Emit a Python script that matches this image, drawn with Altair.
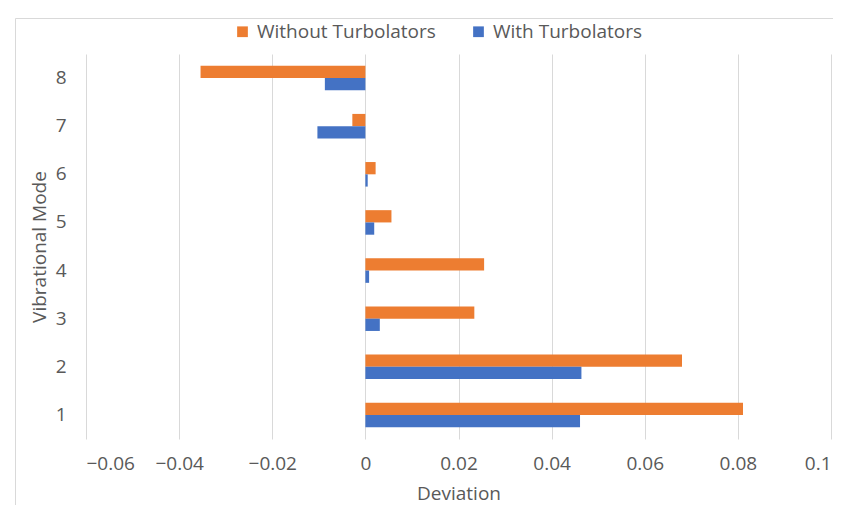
import altair as alt
import pandas as pd

modes = [1, 2, 3, 4, 5, 6, 7, 8]
without_turb = [0.0811, 0.0680, 0.0234, 0.0255, 0.0056, 0.0022, -0.0028, -0.0354]
with_turb = [0.0461, 0.0464, 0.0031, 0.0008, 0.0019, 0.0005, -0.0103, -0.0087]
series = ["Without Turbolators", "With Turbolators"]
colors = ["#ED7D31", "#4472C4"]
x_ticks = [-0.06, -0.04, -0.02, 0, 0.02, 0.04, 0.06, 0.08, 0.1]

rows = []
for m, a, b in zip(modes, without_turb, with_turb):
    rows.append({"mode": str(m), "series": series[0], "value": a})
    rows.append({"mode": str(m), "series": series[1], "value": b})
df = pd.DataFrame(rows)

font = "Open Sans"
txt = "#595959"
fs = 19

bars = alt.Chart(df).mark_bar().encode(
    x=alt.X("value:Q",
            scale=alt.Scale(domain=[-0.06, 0.1], nice=False, zero=False),
            axis=alt.Axis(values=x_ticks, format=".2~f", title="Deviation", grid=True,
                          ticks=False, domain=False, labelPadding=15, titlePadding=11,
                          gridColor="#D9D9D9", labelFontSize=fs, titleFontSize=fs,
                          labelColor=txt, titleColor=txt, labelFont=font, titleFont=font,
                          titleFontWeight="normal")),
    y=alt.Y("mode:N", sort=[str(m) for m in reversed(modes)],
            scale=alt.Scale(paddingInner=0.49, paddingOuter=0.245),
            axis=alt.Axis(title="Vibrational Mode", ticks=False, domain=False, grid=False,
                          labelPadding=20, titlePadding=6, labelFontSize=fs, titleFontSize=fs,
                          labelColor=txt, titleColor=txt, labelFont=font, titleFont=font,
                          titleFontWeight="normal")),
    yOffset=alt.YOffset("series:N", sort=series, scale=alt.Scale(paddingInner=0, paddingOuter=0)),
    color=alt.Color("series:N", sort=series,
                    scale=alt.Scale(domain=series, range=colors),
                    legend=alt.Legend(orient="none", direction="horizontal", legendX=147, legendY=-32,
                                      title=None, symbolType="square", symbolSize=115,
                                      symbolStrokeWidth=0, labelFontSize=fs, labelColor=txt,
                                      labelFont=font, labelOffset=5, columnPadding=33,
                                      labelLimit=400)),
)

frame = alt.Chart(pd.DataFrame({"a": [0]})).mark_rect(
    fill="transparent", stroke="#D9D9D9", strokeWidth=1
).encode(x=alt.value(-70.5), x2=alt.value(780), y=alt.value(-35.5), y2=alt.value(520))

chart = alt.layer(frame, bars).properties(
    width=745, height=385,
    padding={"left": 78, "top": 46, "right": 2, "bottom": 66},
    autosize=alt.AutoSizeParams(type="none"),
).configure_view(stroke=None)

chart.save("out.html", embed_options={"renderer": "svg", "actions": False})
